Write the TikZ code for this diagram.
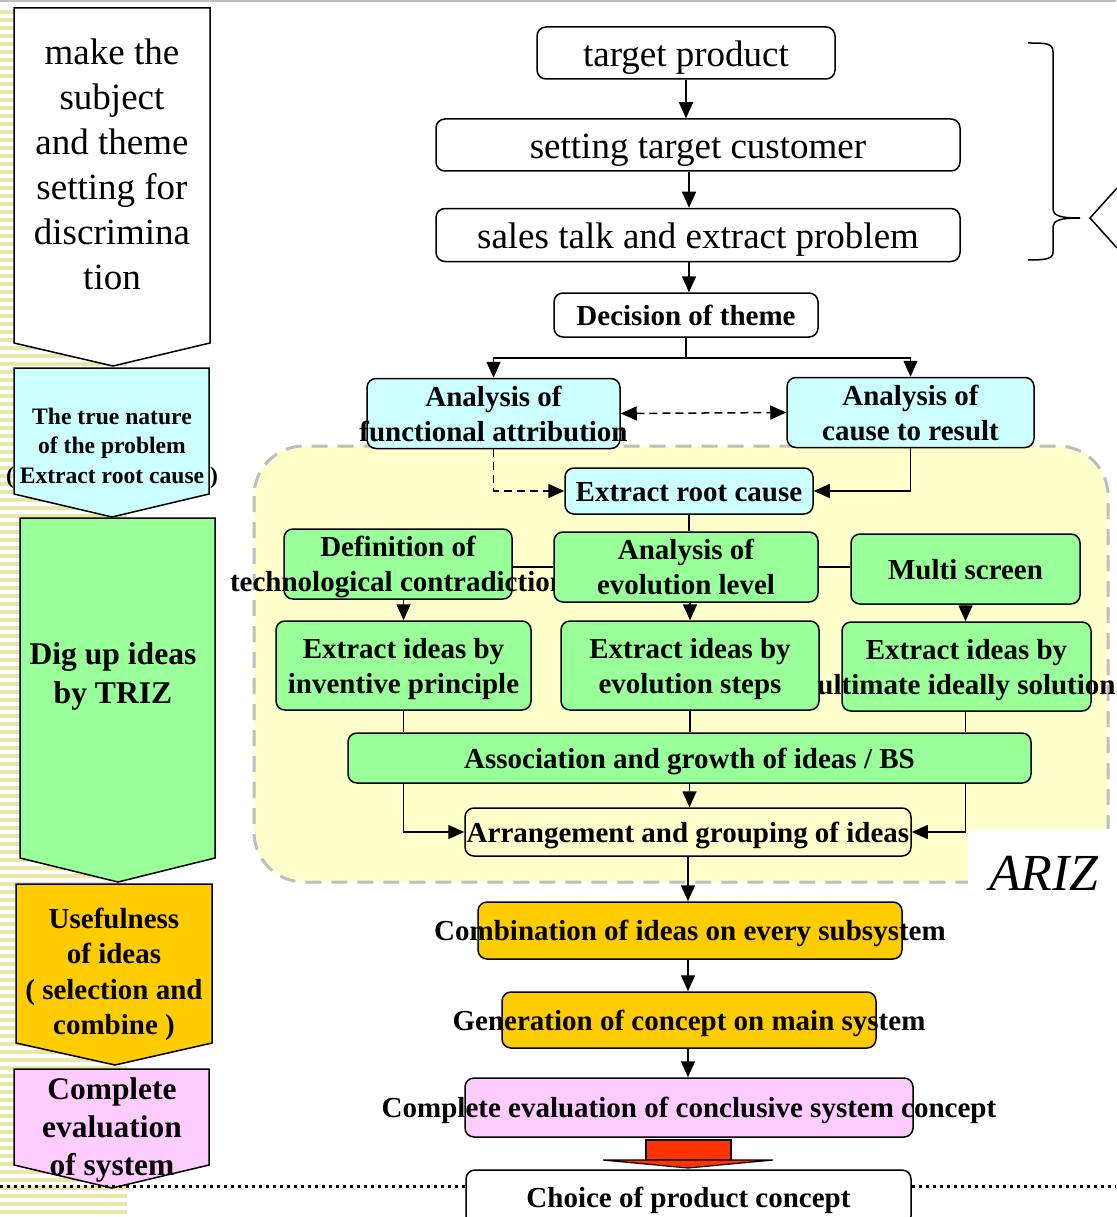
\documentclass[tikz,border=0pt]{standalone}
\usepackage{fontspec}
\setmainfont{Liberation Serif}
\usetikzlibrary{arrows.meta,calc}
\definecolor{cyanbox}{RGB}{204,255,255}
\definecolor{greenbox}{RGB}{153,255,153}
\definecolor{orangebox}{RGB}{255,204,0}
\definecolor{pinkbox}{RGB}{255,204,255}
\definecolor{arizfill}{RGB}{255,255,204}
\definecolor{stripe}{RGB}{234,230,168}
\definecolor{arizline}{RGB}{190,190,190}
\definecolor{redarrow}{RGB}{255,51,0}
% centred multi-line text that may overflow its box, set slightly low
\newcommand\tb[1]{\makebox[0pt]{\raisebox{-0.12em}[\height][\depth]{\begin{tabular}{@{}c@{}}#1\end{tabular}}}}
\begin{document}
\begin{tikzpicture}[x=1pt,y=-1pt,
  box/.style={draw, line width=1.5pt, rounded corners=9pt, inner sep=0pt},
  sz/.style 2 args={minimum width=#1, minimum height=#2},
  reg/.style={font=\fontsize{37}{45}\selectfont},
  bld/.style={font=\fontsize{29}{35}\selectfont\bfseries},
  conn/.style={line width=1.5pt},
  tip/.style={-{Triangle[length=16pt,width=14pt]}},
  arr/.style={line width=1.5pt, tip},
  dsh/.style={dash pattern=on 8pt off 5pt},
  pent/.style={draw, line width=1.5pt},
  dots/.style={line width=3pt, dash pattern=on 3pt off 4pt},
]
\useasboundingbox (0,0) rectangle (1116,1217);

% striped margin and top rule
\foreach \k in {0,...,150} \fill[stripe] (0,{10+8*\k}) rectangle (127,{14+8*\k});
\draw[arizline, line width=2pt] (0,1.5) -- (1116,1.5);

% ARIZ region
\draw[arizline, fill=arizfill, line width=3pt, dash pattern=on 16pt off 10pt, rounded corners=50pt]
  (254,446) rectangle (1108,882);
\fill[white] (968,829) rectangle (1116,905);
\node[font=\fontsize{52}{60}\selectfont\itshape, inner sep=0pt] (ariz) at (1044,873) {ARIZ};

% left column of stage arrows
\draw[pent, fill=white] (14,8) -- (210,8) -- (210,343) -- (113,366) -- (14,343) -- cycle;
\draw[pent, fill=cyanbox] (14,368) -- (209,368) -- (209,494) -- (112,517) -- (14,494) -- cycle;
\draw[pent, fill=greenbox] (20,518) -- (215,518) -- (215,858) -- (118,882) -- (20,858) -- cycle;
\draw[pent, fill=orangebox] (16,884) -- (212,884) -- (212,1043) -- (115,1065) -- (16,1043) -- cycle;
\draw[pent, fill=pinkbox] (14,1069) -- (209,1069) -- (209,1165) -- (112,1188) -- (14,1165) -- cycle;

\node[reg, inner sep=0pt] (s1) at (112,164) {\tb{make the\\subject\\and theme\\setting for\\discrimina\\tion}};
\node[font=\fontsize{23.6}{29.5}\selectfont\bfseries, inner sep=0pt] (s2) at (112,445) {\tb{The true nature\\of the problem\\( Extract root cause )}};
\node[font=\fontsize{31.6}{39}\selectfont\bfseries, inner sep=0pt] (s3) at (113,672) {\tb{Dig up ideas\\by TRIZ}};
\node[font=\fontsize{29}{35.3}\selectfont\bfseries, inner sep=0pt] (s4) at (114,971) {\tb{Usefulness\\of ideas\\( selection and\\combine )}};
\node[font=\fontsize{31.4}{38}\selectfont\bfseries, inner sep=0pt] (s5) at (112,1126) {\tb{Complete\\evaluation\\of system}};

% brace grouping the first three steps
\draw[line width=1.5pt] (1028,43) .. controls (1046,43) and (1053,43) .. (1053,52)
  -- (1053,208) .. controls (1053,216) and (1060,218) .. (1080,218)
  .. controls (1060,218) and (1053,220) .. (1053,228)
  -- (1053,252) .. controls (1053,259) and (1046,260) .. (1028,260);
\draw[line width=1.5pt] (1117,188) -- (1090,218) -- (1117,248);

% main flow boxes
\node[box, reg, fill=white, sz={298pt}{52pt}] (tp) at (686,53) {\tb{target product}};
\node[box, reg, fill=white, sz={524pt}{52pt}] (stc) at (698,145) {\tb{setting target customer}};
\node[box, reg, fill=white, sz={524pt}{53pt}] (ste) at (698,235) {\tb{sales talk and extract problem}};
\node[box, bld, fill=white, sz={264pt}{44pt}] (dec) at (686,315) {\tb{Decision of theme}};
\node[box, bld, fill=cyanbox, sz={253pt}{67pt}] (afa) at (493.5,413.5) {\tb{Analysis of\\functional attribution}};
\node[box, bld, fill=cyanbox, sz={247pt}{67pt}] (acr) at (910.5,412.5) {\tb{Analysis of\\cause to result}};
\node[box, bld, fill=cyanbox, sz={248pt}{46pt}] (erc) at (689,491) {\tb{Extract root cause}};
\node[box, bld, fill=greenbox, sz={228pt}{68pt}] (dtc) at (398,564) {\tb{Definition of\\technological contradiction}};
\node[box, bld, fill=greenbox, sz={264pt}{64pt}] (ael) at (686,567) {\tb{Analysis of\\evolution level}};
\node[box, bld, fill=greenbox, sz={229pt}{70pt}] (ms) at (965.5,569) {\tb{Multi screen}};
\node[box, bld, fill=greenbox, sz={255pt}{89pt}] (eip) at (403.5,665.5) {\tb{Extract ideas by\\inventive principle}};
\node[box, bld, fill=greenbox, sz={258pt}{89pt}] (ees) at (690,665.5) {\tb{Extract ideas by\\evolution steps}};
\node[box, bld, fill=greenbox, sz={249pt}{89pt}] (eiu) at (966.5,666.5) {\tb{Extract ideas by\\ultimate ideally solution}};
\node[box, bld, fill=greenbox, sz={683pt}{50pt}] (agi) at (689.5,758) {\tb{Association and growth of ideas / BS}};
\node[box, bld, sz={446pt}{48pt}] (arr) at (688,832) {\tb{Arrangement and grouping of ideas}};
\node[box, bld, fill=orangebox, sz={424pt}{57pt}] (com) at (690,930.5) {\tb{Combination of ideas on every subsystem}};
\node[box, bld, fill=orangebox, sz={374pt}{56pt}] (gen) at (689,1020) {\tb{Generation of concept on main system}};
\node[box, bld, fill=pinkbox, sz={448pt}{59pt}] (cev) at (689,1107.5) {\tb{Complete evaluation of conclusive system concept}};
\node[box, bld, fill=white, sz={445pt}{55pt}] (cho) at (688.5,1197.5) {\tb{Choice of product concept}};

% connectors
\coordinate (split) at (686,358);
\draw[arr] (tp.south) -- (tp.south |- stc.north);
\draw[arr] (erc.south |- stc.south) -- (erc.south |- ste.north);
\draw[arr] (erc.south |- ste.south) -- (erc.south |- dec.north);
\draw[conn] (dec.south) -- (split);
\draw[arr] (split) -| (afa.north);
\draw[arr] (split) -| (acr.north);
\draw[conn, dsh, {Triangle[length=16pt,width=14pt]}-{Triangle[length=16pt,width=14pt]}] (afa.east) -- (acr.west);
\draw[conn, dsh, tip] (afa.south) |- (erc.west);
\draw[arr] (acr.south) |- (erc.east);
\draw[conn] (erc.south) -- (erc.south |- ael.north);
\draw[conn] (dtc.east |- ael.west) -- (ael.west);
\draw[conn] (ael.east) -- (ms.west |- ael.east);
\draw[arr] (eip.north |- dtc.south) -- (eip.north);
\draw[arr] (ees.north |- ael.south) -- (ees.north);
\draw[arr] (ms.south) -- (ms.south |- eiu.north);
\draw[conn] (eip.south) -- (eip.south |- agi.north);
\draw[conn] (ees.south) -- (ees.south |- agi.north);
\draw[conn] (ms.south |- eiu.south) -- (ms.south |- agi.north);
\draw[arr] (agi.south) -- (agi.south |- arr.north);
\draw[arr] (eip.south |- agi.south) |- (arr.west);
\draw[arr] (ms.south |- agi.south) |- (arr.east);
\draw[arr] (arr.south) -- (arr.south |- com.north);
\draw[arr] (arr.south |- com.south) -- (arr.south |- gen.north);
\draw[arr] (arr.south |- gen.south) -- (arr.south |- cev.north);

% block arrow to the final choice
\draw[fill=redarrow, line width=1.2pt] (646,1140) rectangle (731,1160);
\draw[fill=redarrow, line width=1.2pt, line join=miter] (603,1160) -- (773,1160) -- (688,1168) -- cycle;

% dotted separator
\coordinate (dl) at (0,1186);
\coordinate (dr) at (1116,1186);
\draw[dots] (dl) -- (dl -| cho.west);
\draw[dots] (dr -| cho.east) -- (dr);
\end{tikzpicture}
\end{document}
